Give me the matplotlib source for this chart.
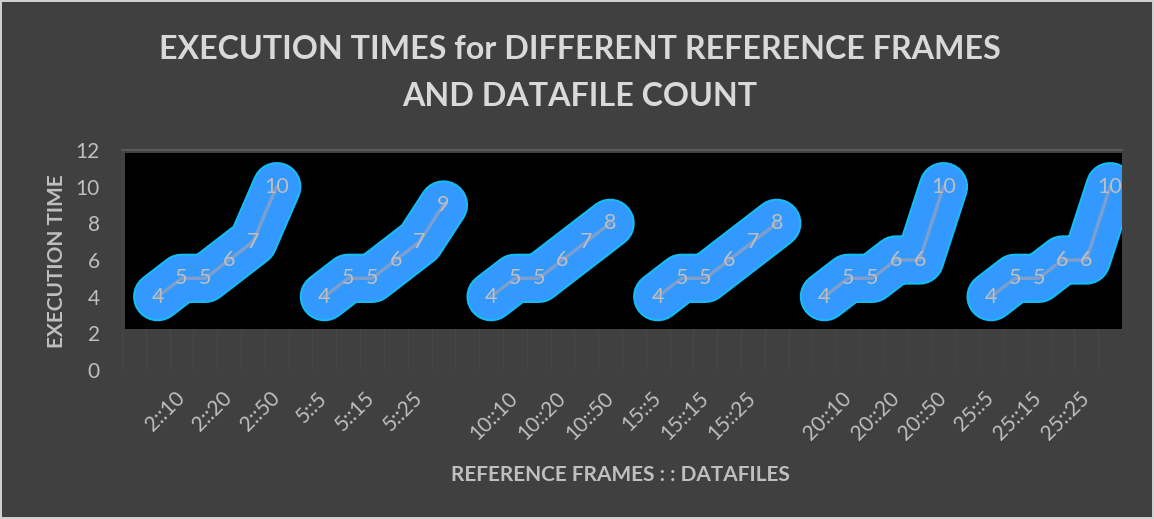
import matplotlib.pyplot as plt
from matplotlib.patches import Rectangle

# reference frame groups and the datafile counts run for each of them
frames = ["2", "5", "10", "15", "20", "25"]
datafiles = [5, 10, 15, 20, 25, 50]
exec_times = [
    [4, 5, 5, 6, 7, 10],
    [4, 5, 5, 6, 7, 9],
    [4, 5, 5, 6, 7, 8],
    [4, 5, 5, 6, 7, 8],
    [4, 5, 5, 6, 6, 10],
    [4, 5, 5, 6, 6, 10],
]
y_ticks = [0, 2, 4, 6, 8, 10, 12]

TEXT = "#BFBFBF"
BG = "#404040"
FONT = "Lato"

# category axis: one blank slot before each group of runs
categories = []
group_x = []
for fr in frames:
    categories.append("")
    group_x.append([len(categories) + k for k in range(len(datafiles))])
    categories.extend(f"{fr}::{d}" for d in datafiles)

fig = plt.figure(figsize=(11.54, 5.19), dpi=100)
fig.patch.set_facecolor(BG)
fig.patch.set_edgecolor("#D0D0D0")
fig.patch.set_linewidth(1.5)

ax = fig.add_axes([0.1057, 0.2871, 0.8666, 0.4239])
ax.set_facecolor(BG)
ax.set_xlim(-0.5, len(categories) - 0.5)
ax.set_ylim(0, 12)

# faint category separators and the top gridline
for b in range(len(categories) + 1):
    ax.axvline(b - 0.5, color="#474747", lw=0.8, zorder=0)
ax.axhline(12, color="#5A5A5A", lw=1.5, zorder=0, clip_on=False)

# black panel behind the series
ax.add_patch(Rectangle((-0.38, 2.25), len(categories), 9.6,
                       facecolor="black", edgecolor="none", zorder=1))

for xs, ys in zip(group_x, exec_times):
    ax.plot(xs, ys, color="#14BDF7", lw=35.5, solid_capstyle="round",
            solid_joinstyle="round", zorder=2)
    ax.plot(xs, ys, color="#3399FF", lw=32.5, solid_capstyle="round",
            solid_joinstyle="round", zorder=3)
    ax.plot(xs, ys, color="#7E9FCC", lw=2.4, solid_capstyle="round", zorder=4)
    for x, y in zip(xs, ys):
        ax.text(x, y, str(y), color=TEXT, fontsize=15.5, family=FONT,
                ha="center", va="center", zorder=5)

for s in ax.spines.values():
    s.set_visible(False)

ax.set_yticks(y_ticks)
ax.set_yticklabels([str(t) for t in y_ticks], color=TEXT, fontsize=15, family=FONT)
ax.set_xticks(range(len(categories)))
ax.set_xticklabels([c if i % 2 == 0 else "" for i, c in enumerate(categories)],
                   rotation=45, ha="right", va="center", rotation_mode="anchor",
                   color=TEXT, fontsize=15, family=FONT)
ax.tick_params(axis="y", length=0, pad=16)
ax.tick_params(axis="x", length=0, pad=18)

fig.text(0.5026, 0.904, "EXECUTION TIMES for DIFFERENT REFERENCE FRAMES",
         ha="center", va="center", color="#D9D9D9", fontsize=23.2,
         fontweight="bold", family=FONT)
fig.text(0.5026, 0.815, "AND DATAFILE COUNT", ha="center", va="center",
         color="#D9D9D9", fontsize=23.2, fontweight="bold", family=FONT)
fig.text(0.538, 0.085, "REFERENCE FRAMES : : DATAFILES", ha="center",
         va="center", color=TEXT, fontsize=15, fontweight="bold", family=FONT)
fig.text(0.049, 0.497, "EXECUTION TIME", ha="center", va="center",
         rotation=90, color=TEXT, fontsize=15, fontweight="bold", family=FONT)

fig.savefig("out.png", dpi=100, facecolor=fig.get_facecolor(),
            edgecolor=fig.get_edgecolor())
